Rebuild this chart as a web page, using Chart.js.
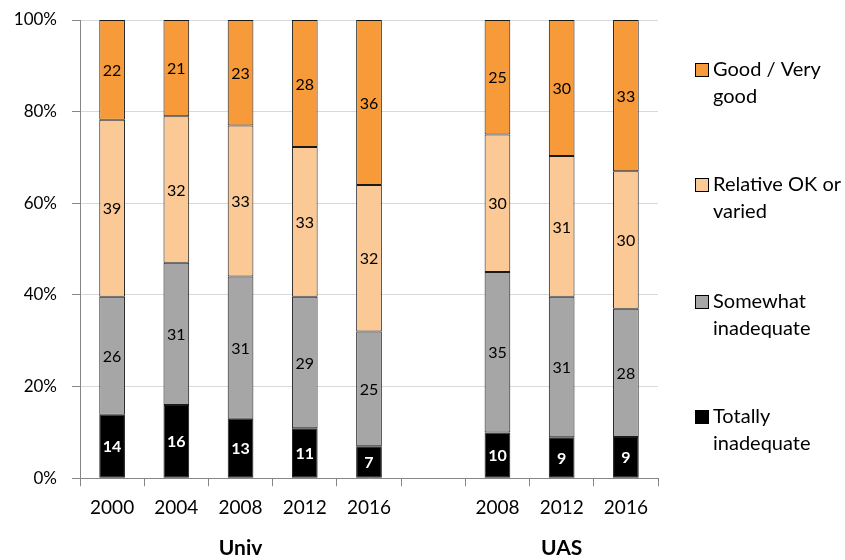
<!DOCTYPE html>
<html>
<head>
<meta charset="utf-8">
<script src="https://cdn.jsdelivr.net/npm/chart.js@4"></script>
<style>
  html, body { margin: 0; padding: 0; background: #fff; }
  #wrap { width: 845px; height: 560px; position: relative; }
</style>
</head>
<body>
<div id="wrap"><canvas id="chart"></canvas></div>
<script>
// categories (empty slot separates the two groups)
const years = ["2000", "2004", "2008", "2012", "2016", "", "2008", "2012", "2016"]
const groups = [["Univ", 2], ["UAS", 7]]

// raw answer shares as printed on the bars
const totallyInadequate = [14, 16, 13, 11, 7, null, 10, 9, 9]
const somewhatInadequate = [26, 31, 31, 29, 25, null, 35, 31, 28]
const relativeOk = [39, 32, 33, 33, 32, null, 30, 31, 30]
const goodVeryGood = [22, 21, 23, 28, 36, null, 25, 30, 33]

const seriesNames = ["Totally inadequate", "Somewhat inadequate", "Relative OK or varied", "Good / Very good"]
const legendLines = [["Totally", "inadequate"], ["Somewhat", "inadequate"], ["Relative OK or", "varied"], ["Good / Very", "good"]]
const colors = ["#000000", "#a6a6a6", "#fbc995", "#f79a3a"]
const raw = [totallyInadequate, somewhatInadequate, relativeOk, goodVeryGood]

const FONT = "Lato, 'Liberation Sans', sans-serif"

// normalise every bar to 100%
const totals = years.map((_, i) => raw.reduce((s, arr) => s + (arr[i] || 0), 0))
const pct = raw.map(arr => arr.map((v, i) => (v == null ? null : (v / totals[i]) * 100)))

const datasets = raw.map((arr, k) => ({
  label: seriesNames[k],
  data: pct[k],
  raw: arr,
  backgroundColor: colors[k],
  borderColor: "#1a1a1a",
  borderWidth: 1,
  borderSkipped: false,
  categoryPercentage: 0.8,
  barPercentage: 0.5,
}))

const extras = {
  id: "extras",
  afterDatasetsDraw(chart) {
    const ctx = chart.ctx
    ctx.save()
    ctx.textAlign = "center"
    ctx.textBaseline = "middle"
    chart.data.datasets.forEach((ds, k) => {
      const meta = chart.getDatasetMeta(k)
      meta.data.forEach((bar, i) => {
        const v = ds.raw[i]
        if (v == null) return
        const mid = (bar.y + bar.base) / 2
        ctx.fillStyle = k === 0 ? "#fff" : "#000"
        ctx.font = (k === 0 ? "bold " : "") + "16px " + FONT
        ctx.fillText(String(v), bar.x, mid + 1)
      })
    })
    ctx.restore()
  },
  afterDraw(chart) {
    const ctx = chart.ctx
    const x = chart.scales.x
    ctx.save()
    // group labels under the axis
    ctx.fillStyle = "#000"
    ctx.textAlign = "center"
    ctx.textBaseline = "middle"
    ctx.font = "bold 21px " + FONT
    groups.forEach(([name, idx]) => {
      ctx.fillText(name, x.getPixelForValue(idx), 548)
    })
    // legend on the right, top item first
    ctx.textAlign = "left"
    ctx.font = "20px " + FONT
    const tops = [417, 302, 185, 70]
    for (let k = 3; k >= 0; k--) {
      const y = tops[k]
      ctx.fillStyle = colors[k]
      ctx.fillRect(695, y - 7, 14, 14)
      ctx.strokeStyle = "#000"
      ctx.lineWidth = 1
      ctx.strokeRect(695.5, y - 6.5, 13, 13)
      ctx.fillStyle = "#000"
      legendLines[k].forEach((line, j) => ctx.fillText(line, 713, y + j * 27))
    }
    ctx.restore()
  },
}

new Chart(document.getElementById("chart"), {
  type: "bar",
  data: { labels: years, datasets: datasets },
  options: {
    responsive: true,
    maintainAspectRatio: false,
    animation: false,
    layout: { padding: { top: 20, right: 187, bottom: 31, left: 10 } },
    plugins: { legend: { display: false }, tooltip: { enabled: false } },
    scales: {
      x: {
        stacked: true,
        border: { color: "#868686" },
        grid: { drawOnChartArea: false, drawTicks: true, tickLength: 8, color: "#868686", offset: true },
        ticks: { color: "#000", font: { family: FONT, size: 19 }, padding: 10, maxRotation: 0, autoSkip: false },
      },
      y: {
        stacked: true,
        min: 0,
        max: 100,
        afterFit(scale) {
          scale.width = 70
          scale.paddingTop = 0
          scale.paddingBottom = 0
        },
        border: { color: "#868686" },
        grid: { color: "#d9d9d9", tickColor: "#868686", tickLength: 8 },
        ticks: { stepSize: 20, color: "#000", font: { family: FONT, size: 17 }, padding: 15, callback: v => v + "%" },
      },
    },
  },
  plugins: [extras],
})
</script>
</body>
</html>
